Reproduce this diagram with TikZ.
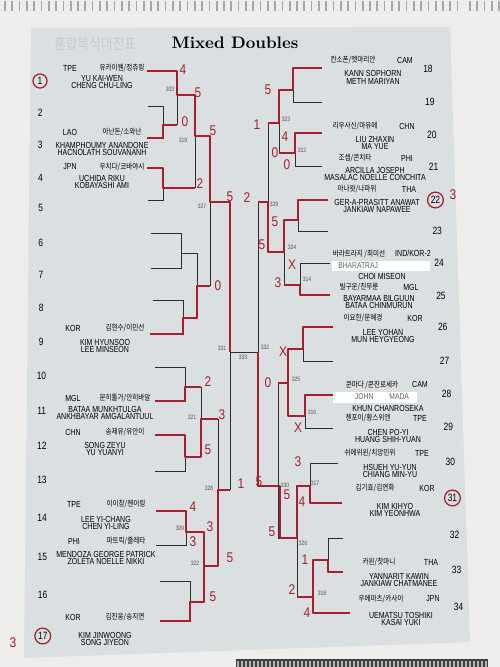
\documentclass[tikz,border=0pt]{standalone}
\usepackage{fontspec}
\usepackage{xcolor}
\usepackage{tikz}
\usetikzlibrary{positioning,calc}
\newfontfamily\namefont[FakeStretch=0.8]{Liberation Sans}
\newfontfamily\korfont[FakeStretch=0.85]{Noto Sans CJK KR}
\newfontfamily\handfont[FakeStretch=0.85]{Liberation Sans}
\definecolor{panel}{HTML}{DADFE2}
\definecolor{paper}{HTML}{EDEDEB}
\definecolor{ink}{HTML}{2E2E2E}
\definecolor{pen}{HTML}{A81E2C}
\definecolor{numgray}{HTML}{555555}
% 左右两边的选手
\newcommand{\teamL}[7]{%
  \node[cc] (cc#1) at (70+#2,#3) {#5};
  \node[kr] (kr#1) at (122+#2,#3) {#6};
  \node[nm] (nm#1) at (102+#2,#4) {#7};
}
\newcommand{\teamR}[7]{%
  \node[kr] (kr#1) at (353+#2,#3) {#6};
  \node[cc] (cc#1) at (405+#2,#3) {#5};
  \node[nm] (nm#1) at (373+#2,#4) {#7};
}

\begin{document}
\begin{tikzpicture}[x=0.02cm,y=-0.02cm,
  br/.style={ink,line width=0.45pt},
  win/.style={pen,line width=0.9pt,line join=round},
  cc/.style={inner sep=0,font=\fontsize{5}{5}\selectfont\namefont},
  kr/.style={inner sep=0,font=\fontsize{4.4}{4.4}\selectfont\korfont},
  nm/.style={inner sep=0,align=center,font=\fontsize{5}{4.5}\selectfont\namefont},
  num/.style={inner sep=0,font=\fontsize{6}{6}\selectfont\namefont},
  mno/.style={inner sep=0,numgray,font=\fontsize{3.6}{3.6}\selectfont\namefont},
  hand/.style={inner sep=0,pen,font=\fontsize{8}{8}\selectfont\handfont},
  ring/.style={circle,draw=pen,line width=0.7pt,minimum size=8pt,inner sep=0},
  note/.style={inner sep=0,ink!75,font=\fontsize{4.8}{4.8}\selectfont\namefont}]
  \useasboundingbox (0,0) rectangle (500,667);
  % 背景
  \fill[paper] (0,0) rectangle (500,667);
  \fill[panel] (31,28) -- (450,27) -- (470,642) -- (24,658) -- cycle;
  \foreach \x in {5,12.3,...,462} {
    \draw[gray!70,line width=1pt] (\x,1) -- (\x,11);
  }
  \foreach \x in {470,477.3,...,500} {
    \draw[gray!70,line width=1pt] (\x,1) -- (\x,11);
  }
  \fill[black!75] (236,659) rectangle (488,667);
  \foreach \x in {238,242,...,486} {
    \draw[gray!60,line width=0.6pt] (\x,661) -- (\x,667);
  }
  % 标题
  \node[inner sep=0,panel!90!black,font=\fontsize{8.5}{8.5}\selectfont\korfont] (ghost) at (95,44) {혼합복식대진표};
  \node[inner sep=0,font=\fontsize{9.5}{9.5}\selectfont\bfseries] (title) at (235,43) {Mixed Doubles};
  % 左半区
  \draw[br] (147,71) -- (177,71);
  \draw[br] (148,106) -- (163,106) -- (163,138) -- (147,138);
  \draw[br] (163,125) -- (177,125);
  \draw[br] (177,71) -- (177,125);
  \draw[br] (177,95) -- (195,95);
  \draw[br] (147,168) -- (163,168) -- (163,200) -- (148,200);
  \draw[br] (163,188) -- (195,188);
  \draw[br] (195,95) -- (195,188);
  \draw[br] (195,136) -- (210,136);
  \draw[br] (151,233) -- (181,233) -- (181,268) -- (151,268);
  \draw[br] (181,253) -- (197,253);
  \draw[br] (153,300) -- (183,300) -- (183,334) -- (150,334);
  \draw[br] (183,318) -- (197,318);
  \draw[br] (197,253) -- (197,318);
  \draw[br] (197,286) -- (210,286);
  \draw[br] (210,136) -- (210,286);
  \draw[br] (210,202) -- (230,202);
  \draw[br] (155,367) -- (185,367) -- (185,401) -- (155,401);
  \draw[br] (185,387) -- (201,387);
  \draw[br] (155,435) -- (185,435) -- (185,471) -- (155,471);
  \draw[br] (185,457) -- (201,457);
  \draw[br] (201,387) -- (201,457);
  \draw[br] (201,419) -- (218,419);
  \draw[br] (156,511) -- (186,511) -- (186,545) -- (156,545);
  \draw[br] (186,532) -- (204,532);
  \draw[br] (160,581) -- (190,581) -- (190,621) -- (160,621);
  \draw[br] (190,602) -- (204,602);
  \draw[br] (204,532) -- (204,602);
  \draw[br] (204,566) -- (218,566);
  \draw[br] (218,419) -- (218,566);
  \draw[br] (218,490) -- (230,490);
  \draw[br] (230,202) -- (230,490);
  \draw[br] (230,352) -- (258,352);
  % 右半区
  \draw[br] (258,202) -- (258,486);
  \draw[br] (268,123) -- (268,252);
  \draw[br] (268,202) -- (258,202);
  \draw[br] (279,90) -- (279,153);
  \draw[br] (279,123) -- (268,123);
  \draw[br] (322,68) -- (293,68) -- (293,102) -- (322,102);
  \draw[br] (293,90) -- (279,90);
  \draw[br] (322,133) -- (295,133) -- (295,166) -- (322,166);
  \draw[br] (295,153) -- (279,153);
  \draw[br] (284,220) -- (284,285);
  \draw[br] (284,252) -- (268,252);
  \draw[br] (328,200) -- (298,200) -- (298,231) -- (328,231);
  \draw[br] (298,220) -- (284,220);
  \draw[br] (330,263) -- (300,263) -- (300,295) -- (330,295);
  \draw[br] (300,285) -- (284,285);
  \draw[br] (278,383) -- (278,538);
  \draw[br] (278,486) -- (258,486);
  \draw[br] (288,349) -- (288,416);
  \draw[br] (288,383) -- (278,383);
  \draw[br] (333,327) -- (303,327) -- (303,361) -- (333,361);
  \draw[br] (303,349) -- (288,349);
  \draw[br] (333,395) -- (305,395) -- (305,428) -- (333,428);
  \draw[br] (305,416) -- (288,416);
  \draw[br] (297,486) -- (297,597);
  \draw[br] (297,538) -- (278,538);
  \draw[br] (338,463) -- (310,463) -- (310,503) -- (342,503);
  \draw[br] (310,486) -- (297,486);
  \draw[br] (313,560) -- (313,613) -- (350,613);
  \draw[br] (313,597) -- (297,597);
  \draw[br] (343,538) -- (328,538) -- (328,572) -- (343,572);
  \draw[br] (328,560) -- (313,560);
  % 红笔
  \draw[win] (147,71) -- (177,71) -- (177,95) -- (195,95) -- (195,136) -- (210,136) -- (210,202) -- (230,202) -- (230,352);
  \draw[win] (147,138) -- (163,138) -- (163,125) -- (177,125);
  \draw[win] (147,168) -- (163,168) -- (163,188) -- (195,188);
  \draw[win] (150,334) -- (183,334) -- (183,318) -- (197,318) -- (197,286) -- (210,286);
  \draw[win] (155,401) -- (185,401) -- (185,387) -- (201,387);
  \draw[win] (155,435) -- (185,435) -- (185,457) -- (201,457) -- (201,419) -- (218,419);
  \draw[win] (156,511) -- (186,511) -- (186,532) -- (204,532) -- (204,566) -- (218,566) -- (218,490) -- (230,490);
  \draw[win] (160,621) -- (190,621) -- (190,602) -- (204,602) -- (204,566);
  \draw[win] (322,68) -- (293,68) -- (293,90) -- (279,90) -- (279,123) -- (268,123);
  \draw[win] (322,133) -- (295,133) -- (295,153) -- (279,153);
  \draw[win] (328,200) -- (298,200) -- (298,220) -- (284,220) -- (284,252) -- (268,252) -- (268,202) -- (258,202);
  \draw[win] (330,295) -- (300,295) -- (300,285) -- (284,285);
  \draw[win] (333,327) -- (303,327) -- (303,349) -- (288,349) -- (288,383) -- (278,383);
  \draw[win] (333,395) -- (305,395) -- (305,416) -- (288,416) -- (288,383);
  \draw[win] (342,503) -- (310,503) -- (310,486) -- (297,486) -- (297,538) -- (280,538) -- (280,486) -- (258,486) -- (258,352);
  \draw[win] (350,613) -- (313,613) -- (313,597) -- (297,597);
  \draw[win] (343,572) -- (328,572) -- (328,560) -- (313,560) -- (313,597);
  % 场次号
  \foreach \t/\x/\y in {303/170/89,319/183/140,327/202/206,331/222/348,333/243/357,328/209/488,321/192/417,309/180/528,322/195/563,
    323/286/119,312/302/150,329/274/204,324/292/247,314/307/279,332/265/347,325/296/379,316/312/412,330/285/485,317/315/483,326/303/543,318/322/593}
    \node[mno] (m\t) at (\x,\y) {\t};
  % 签号
  \foreach \i/\y in {1/81,2/113,3/145,4/178,5/208,6/243,7/275,8/308,9/342,10/376,11/411,12/446,13/480,14/518,15/557,16/595,17/636}
    \node[num] (e\i) at ({40+0.005*(\y-81)},\y) {\i};
  \foreach \i/\y in {18/69,19/102,20/135,21/167,22/200,23/231,24/263,25/296,26/327,27/361,28/394,29/427,30/462,31/498,32/535,33/570,34/607}
    \node[num] (e\i) at ({428+0.057*(\y-69)},\y) {\i};
  % 选手
  \teamL{1}{0}{68}{82}{TPE}{유카이웬/정츄링}{YU KAI-WEN\\CHENG CHU-LING}
  \teamL{3}{0}{132}{149}{LAO}{아난돈/소와난}{KHAMPHOUMY ANANDONE\\HACNOLATH SOUVANANH}
  \teamL{4}{0}{167}{182}{JPN}{우치다/코바야시}{UCHIDA RIKU\\KOBAYASHI AMI}
  \teamL{9}{3}{328}{346}{KOR}{김현수/이민선}{KIM HYUNSOO\\LEE MINSEON}
  \teamL{11}{3}{398}{413}{MGL}{문히톨가/안히바알}{BATAA MUNKHTULGA\\ANKHBAYAR AMGALANTUUL}
  \teamL{12}{3}{432}{449}{CHN}{송제유/유안이}{SONG ZEYU\\YU YUANYI}
  \teamL{14}{4}{504}{523}{TPE}{이이창/첸이링}{LEE YI-CHANG\\CHEN YI-LING}
  \teamL{15}{4}{541}{558}{PHI}{파트릭/졸레타}{MENDOZA GEORGE PATRICK\\ZOLETA NOELLE NIKKI}
  \teamL{17}{3}{617}{639}{KOR}{김진웅/송지연}{KIM JINWOONG\\SONG JIYEON}
  \teamR{18}{0}{60}{77}{CAM}{칸소폰/멧마리얀}{KANN SOPHORN\\METH MARIYAN}
  \teamR{20}{2}{126}{143}{CHN}{리우사신/마유에}{LIU ZHAXIN\\MA YUE}
  \teamR{21}{2}{158}{174}{PHI}{조셉/콘치타}{ARCILLA JOSEPH\\MASALAC NOELLE CONCHITA}
  \teamR{22}{4}{189}{206}{THA}{아나왓/나파위}{GER-A-PRASITT ANAWAT\\JANKIAW NAPAWEE}
  \teamR{25}{6}{287}{302}{MGL}{빌구운/친무룬}{BAYARMAA BILGUUN\\BATAA CHINMURUN}
  \teamR{26}{10}{318}{336}{KOR}{이요한/문혜경}{LEE YOHAN\\MUN HEYGYEONG}
  \teamR{29}{15}{418}{436}{TPE}{첸포이/황스위엔}{CHEN PO-YI\\HUANG SHIH-YUAN}
  \teamR{30}{17}{453}{471}{TPE}{쉬에위윈/치앙민위}{HSUEH YU-YUN\\CHIANG MIN-YU}
  \teamR{31}{22}{488}{510}{KOR}{김기효/김연화}{KIM KIHYO\\KIM YEONHWA}
  \teamR{33}{26}{562}{580}{THA}{카윈/찻마니}{YANNARIT KAWIN\\JANKIAW CHATMANEE}
  \teamR{34}{28}{599}{619}{JPN}{우에마츠/카사이}{UEMATSU TOSHIKI\\KASAI YUKI}
  % 贴纸
  \node[kr] (kr24) at (359,254) {바라트라지 /최미선};
  \node[cc] (cc24) at (413,253) {IND/KOR-2};
  \fill[white] (332,261) rectangle (430,271);
  \node[note,anchor=west] (hw24) at (338,266) {BHARATRAJ};
  \node[nm] (nm24) at (382,276) {CHOI MISEON};
  \node[kr] (kr28) at (372,385) {쿤마다 /쿤찬로세카};
  \node[cc] (cc28) at (420,384) {CAM};
  \fill[white] (333,392) rectangle (417,403);
  \node[note] (hw28) at (382,397) {JOHN\hspace{8pt} MADA};
  \node[nm] (nm28) at (388,408) {KHUN CHANROSEKA};
  % 手写比分
  \foreach \x/\y/\t [count=\k] in {183/70/4,198/93/5,185/122/0,213/131/5,200/184/2,230/197/5,247/198/2,218/286/0,208/382/2,222/415/3,
    208/450/5,241/484/1,193/507/4,210/527/3,193/542/3,230/558/5,213/597/5,13/643/3,
    268/90/5,257/125/1,285/137/4,275/153/0,287/165/0,275/222/5,262/245/5,292/265/X,278/283/3,283/352/X,268/383/0,298/428/X,
    298/462/3,259/482/5,287/495/5,302/502/4,272/532/5,305/560/1,292/590/2,307/613/4,453/195/3}
    \node[hand] (a\k) at (\x,\y) {\t};
  \node[ring] (o1) at (e1) {};
  \node[ring,minimum size=9pt] (o17) at (e17) {};
  \node[ring,minimum size=9pt] (o22) at (e22) {};
  \node[ring,minimum size=9pt] (o31) at (e31) {};
\end{tikzpicture}
\end{document}
